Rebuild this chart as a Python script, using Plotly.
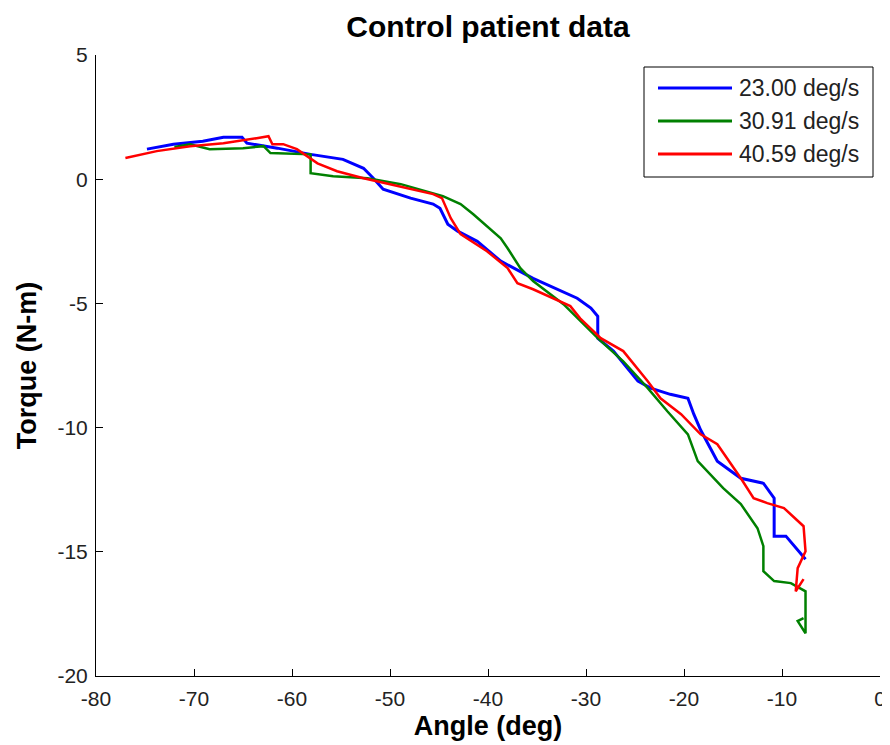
import plotly.graph_objects as go

# Data
angle_23 = [-74.8, -72.1, -69.1, -67.0, -65.1, -64.6, -61.5, -58.1, -54.8, -52.7, -51.7, -50.7,
            -47.9, -45.6, -44.9, -44.1, -43.1, -41.1, -38.7, -35.4, -30.9, -29.5, -28.8, -28.8,
            -27.2, -25.8, -24.7, -23.4, -21.4, -19.6, -19.0, -18.3, -16.6, -14.2, -12.9, -11.9,
            -10.8, -10.8, -9.6, -7.6]
torque_23 = [1.21, 1.41, 1.53, 1.69, 1.69, 1.45, 1.25, 1.0, 0.8, 0.44, 0.04, -0.4,
             -0.76, -1.0, -1.17, -1.81, -2.09, -2.5, -3.3, -3.99, -4.79, -5.19, -5.52, -6.4,
             -6.92, -7.6, -8.13, -8.41, -8.66, -8.82, -9.46, -10.1, -11.35, -12.04, -12.16, -12.24,
             -12.84, -14.37, -14.37, -15.3]

angle_31 = [-72.0, -70.4, -68.4, -65.0, -62.9, -62.2, -58.1, -58.1, -55.8, -52.3, -48.9, -45.6,
            -44.6, -42.8, -41.5, -38.7, -38.0, -36.7, -35.4, -32.3, -28.8, -26.2, -23.7, -21.7,
            -19.6, -18.6, -16.0, -14.2, -12.5, -11.9, -11.9, -10.8, -9.1, -7.6, -7.6, -8.4, -7.8]
torque_31 = [1.30, 1.41, 1.21, 1.25, 1.33, 1.05, 1.0, 0.24, 0.12, 0.04, -0.2, -0.56,
             -0.68, -1.0, -1.41, -2.38, -2.78, -3.58, -4.1, -5.03, -6.4, -7.33, -8.41, -9.34,
             -10.27, -11.35, -12.44, -13.08, -14.05, -14.77, -15.78, -16.18, -16.26, -16.59, -18.28, -17.79, -17.67]

angle_41 = [-77.0, -73.8, -70.4, -67.0, -63.6, -62.4, -62.0, -60.9, -59.5, -57.4, -55.4, -52.7,
            -50.0, -45.6, -44.7, -43.8, -42.8, -40.1, -38.0, -37.0, -35.4, -32.6, -31.6, -30.6,
            -28.5, -26.2, -23.7, -22.4, -20.3, -18.3, -16.6, -14.2, -12.9, -11.5, -9.8, -7.8,
            -7.6, -8.4, -8.6, -7.8]
torque_41 = [0.85, 1.13, 1.33, 1.45, 1.65, 1.73, 1.41, 1.41, 1.21, 0.64, 0.32, 0.04,
             -0.2, -0.6, -0.76, -1.57, -2.21, -2.9, -3.58, -4.19, -4.43, -4.91, -5.11, -5.6,
             -6.4, -6.92, -8.13, -8.82, -9.46, -10.27, -10.67, -12.04, -12.84, -13.04, -13.24, -13.97,
             -14.98, -15.66, -16.59, -16.1]

series_names = ["23.00 deg/s", "30.91 deg/s", "40.59 deg/s"]
series_colors = ["#0000FF", "#008000", "#FF0000"]
x_ticks = [-80, -70, -60, -50, -40, -30, -20, -10, 0]
y_ticks = [5, 0, -5, -10, -15, -20]

fig = go.Figure()
for xs, ys, name, color, w in [(angle_23, torque_23, series_names[0], series_colors[0], 3),
                               (angle_31, torque_31, series_names[1], series_colors[1], 2.5),
                               (angle_41, torque_41, series_names[2], series_colors[2], 2.5)]:
    fig.add_trace(go.Scatter(x=xs, y=ys, mode="lines", name=name, showlegend=False,
                             line=dict(color=color, width=w)))

FONT = "Liberation Sans, Arial"
tick_font = dict(family=FONT, size=21, color="#222222")

# The page body has an 8px margin, so the figure is placed at (8, 8) on screen.
OFF = 8
W, H = 890 - OFF, 745 - OFF
# plot area in screen pixels: x 96..880, y 55..676
L, R, T, B = 96, 880, 55, 676
def px(xp):
    return (xp - L) / (R - L)
def py(yp):
    return (B - yp) / (B - T)

fig.update_layout(
    width=W, height=H,
    margin=dict(l=L - OFF, r=W - (R - OFF), t=T - OFF, b=H - (B - OFF)),
    paper_bgcolor="white", plot_bgcolor="white",
    showlegend=False,
    title=dict(text="<b>Control patient data</b>", x=((L + R) / 2 - OFF) / W, xanchor="center",
               y=1 - (26 - OFF) / H, yanchor="middle",
               font=dict(family=FONT, size=30, color="black")),
    xaxis=dict(range=[-80, 0], tickvals=x_ticks, ticktext=[str(v) for v in x_ticks],
               ticks="inside", ticklen=7, tickcolor="black", automargin=False,
               showline=True, linecolor="black", linewidth=1, showgrid=False, zeroline=False,
               tickfont=tick_font, ticklabelstandoff=4,
               title=dict(text="<b>Angle (deg)</b>", standoff=6,
                          font=dict(family=FONT, size=27, color="black"))),
    yaxis=dict(range=[-20, 5], tickvals=y_ticks, ticktext=[str(v) for v in y_ticks],
               ticks="inside", ticklen=7, tickcolor="black", automargin=False,
               showline=True, linecolor="black", linewidth=1, showgrid=False, zeroline=False,
               tickfont=tick_font, ticklabelstandoff=3,
               title=dict(text="<b>Torque (N-m)</b>", standoff=12,
                          font=dict(family=FONT, size=27, color="black"))),
)

# Legend box drawn to match the MATLAB-style legend
fig.add_shape(type="rect", xref="paper", yref="paper",
              x0=px(644), x1=px(873), y0=py(177), y1=py(67),
              line=dict(color="black", width=1), fillcolor="white", layer="above")
for i, (name, color) in enumerate(zip(series_names, series_colors)):
    yc = 88 + i * 33
    fig.add_shape(type="line", xref="paper", yref="paper",
                  x0=px(658), x1=px(732), y0=py(yc), y1=py(yc),
                  line=dict(color=color, width=3), layer="above")
    fig.add_annotation(xref="paper", yref="paper", x=px(737), y=py(yc),
                       xanchor="left", yanchor="middle", showarrow=False, text=name,
                       font=dict(family=FONT, size=23, color="#222222"))

fig.write_html("out.html")
